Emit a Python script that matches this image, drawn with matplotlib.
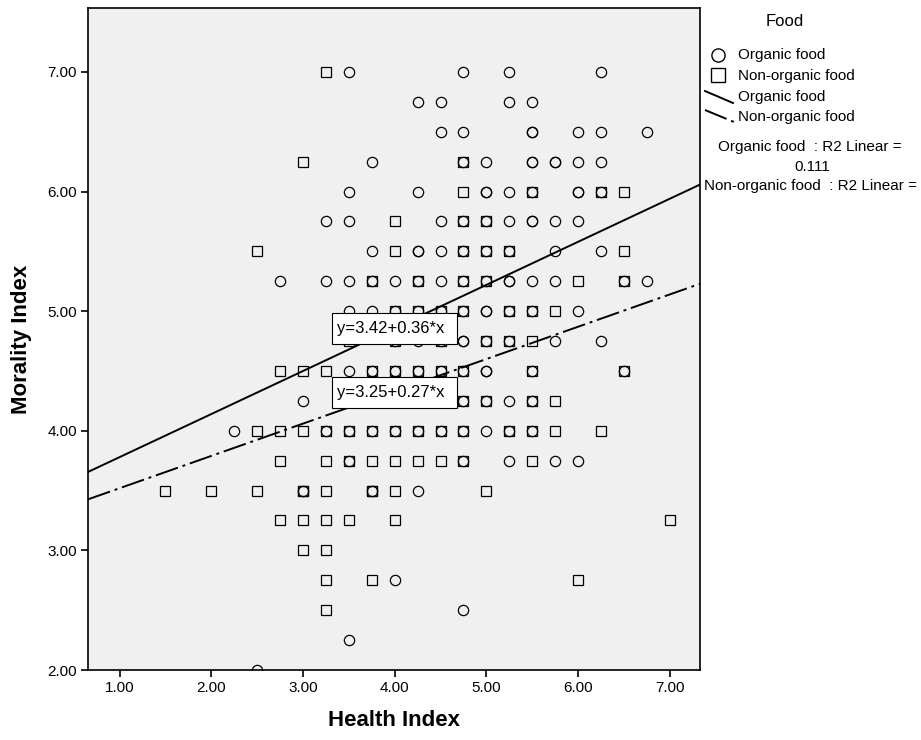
import numpy as np
import matplotlib
matplotlib.use('Agg')
import matplotlib.pyplot as plt
from matplotlib.lines import Line2D
from matplotlib.patches import Rectangle

plt.rcParams['font.family'] = ['Liberation Sans', 'DejaVu Sans']

# Organic food points (row by row, Morality Index from 7.00 down)
organic_x = [3.50, 4.75, 5.25, 6.25,
             4.25, 4.50, 5.25, 5.50,
             4.50, 4.75, 5.50, 5.50, 6.00, 6.25, 6.75,
             3.75, 4.75, 5.00, 5.50, 5.50, 5.75, 5.75, 6.00, 6.25,
             3.50, 4.25, 5.00, 5.00, 5.25, 5.50, 6.00, 6.00, 6.25,
             3.25, 3.50, 4.50, 4.75, 5.00, 5.25, 5.50, 5.50, 5.75, 6.00,
             3.75, 4.25, 4.25, 4.50, 4.75, 5.00, 5.25, 5.75, 6.25,
             2.75, 3.25, 3.50, 3.75, 4.00, 4.25, 4.50, 4.75, 5.00, 5.25, 5.25, 5.50, 5.75, 6.50, 6.75,
             3.50, 3.75, 4.00, 4.25, 4.50, 4.75, 5.00, 5.00, 5.25, 5.50, 6.00,
             4.00, 4.25, 4.50, 4.75, 4.75, 5.00, 5.25, 5.75, 6.25,
             3.50, 3.75, 4.00, 4.25, 4.50, 4.75, 5.00, 5.00, 5.50, 6.50,
             3.00, 4.75, 5.00, 5.25, 5.50,
             2.25, 3.25, 3.50, 3.75, 4.00, 4.25, 4.50, 4.75, 5.00, 5.25, 5.50,
             3.50, 4.75, 5.25, 5.75, 6.00,
             3.00, 3.75, 4.25,
             4.00,
             4.75,
             3.50,
             2.50]
organic_y = ([7.00] * 4 + [6.75] * 4 + [6.50] * 7 + [6.25] * 9 + [6.00] * 9 +
             [5.75] * 10 + [5.50] * 9 + [5.25] * 15 + [5.00] * 11 + [4.75] * 9 +
             [4.50] * 10 + [4.25] * 5 + [4.00] * 11 + [3.75] * 5 + [3.50] * 3 +
             [2.75] * 1 + [2.50] * 1 + [2.25] * 1 + [2.00] * 1)

# Non-organic food points
nonorg_x = [3.25,
            3.00, 4.75,
            4.75, 5.50, 6.25, 6.50,
            4.00, 4.75, 5.00,
            2.50, 4.00, 4.75, 5.00, 5.25, 6.50,
            3.75, 4.25, 4.75, 5.00, 6.00, 6.50,
            4.00, 4.25, 4.50, 4.75, 5.25, 5.50, 5.75,
            3.50, 4.00, 4.50, 5.00, 5.25, 5.50,
            2.75, 3.00, 3.25, 3.75, 4.00, 4.25, 4.50, 4.75, 5.50, 6.50,
            3.75, 4.00, 4.25, 4.50, 4.75, 5.00, 5.50, 5.75,
            2.50, 2.75, 3.00, 3.25, 3.50, 3.75, 4.00, 4.25, 4.50, 4.75, 5.25, 5.50, 5.75, 6.25,
            2.75, 3.25, 3.50, 3.75, 4.00, 4.25, 4.50, 4.75, 5.50,
            1.50, 2.00, 2.50, 3.00, 3.00, 3.25, 3.75, 3.75, 4.00, 5.00,
            2.75, 3.00, 3.25, 3.50, 4.00, 7.00,
            3.00, 3.25,
            3.25, 3.75, 6.00,
            3.25]
nonorg_y = ([7.00] * 1 + [6.25] * 2 + [6.00] * 4 + [5.75] * 3 + [5.50] * 6 +
            [5.25] * 6 + [5.00] * 7 + [4.75] * 6 + [4.50] * 10 + [4.25] * 8 +
            [4.00] * 14 + [3.75] * 9 + [3.50] * 10 + [3.25] * 6 + [3.00] * 2 +
            [2.75] * 3 + [2.50] * 1)

# fit lines
org_fit = (3.42, 0.36)
non_fit = (3.25, 0.27)
org_r2 = '0.111'

W, H = 921, 740
fig = plt.figure(figsize=(W / 100, H / 100), dpi=100)
fig.patch.set_facecolor('white')


def px(x, y):
    return x / W, 1 - y / H


ax = fig.add_axes([88 / W, 70 / H, 612 / W, 662 / H])
ax.set_facecolor('#f0f0f0')
ax.set_xlim(0.655, 7.33)
ax.set_ylim(2.0, 7.535)
ax.set_xticks(np.arange(1, 8))
ax.set_yticks(np.arange(2, 8))
ax.xaxis.set_major_formatter(matplotlib.ticker.FormatStrFormatter('%.2f'))
ax.yaxis.set_major_formatter(matplotlib.ticker.FormatStrFormatter('%.2f'))
ax.tick_params(direction='out', length=5, width=1.2, labelsize=11, pad=3)
for s in ax.spines.values():
    s.set_linewidth(1.2)

pts_o, = ax.plot(organic_x, organic_y, 'o', mfc='none', mec='black', ms=7.4, mew=0.9, ls='none')
pts_n, = ax.plot(nonorg_x, nonorg_y, 's', mfc='none', mec='black', ms=7.4, mew=0.9, ls='none')
pts_o.set_clip_path(ax.patch)
pts_n.set_clip_path(ax.patch)

xs = np.array(ax.get_xlim())
ax.plot(xs, org_fit[0] + org_fit[1] * xs, color='black', lw=1.4)
ax.plot(xs, non_fit[0] + non_fit[1] * xs, color='black', lw=1.4, dashes=(12, 2.5, 1.5, 2.5))

# equation labels
for (b0, b1), ytop in [(org_fit, 4.985), (non_fit, 4.45)]:
    ax.add_patch(Rectangle((3.318, ytop - 0.26), 1.36, 0.26, facecolor='white',
                           edgecolor='black', lw=0.8, zorder=5))
    ax.text(3.37, ytop - 0.13, f'y={b0:.2f}+{b1:.2f}*x', fontsize=12,
            va='center', ha='left', zorder=6)

fig.text(*px(394, 720), 'Health Index', fontsize=16, fontweight='bold', ha='center', va='center')
fig.text(*px(22, 339), 'Morality Index', fontsize=16, fontweight='bold', ha='center',
         va='center', rotation=90)

# legend
fig.text(*px(785, 22), 'Food', fontsize=12, ha='center', va='center')
fig.add_artist(Line2D([718 / W], [1 - 55 / H], marker='o', mfc='none', mec='black', ms=9.5,
                      mew=1.0, transform=fig.transFigure))
fig.add_artist(Line2D([718 / W], [1 - 75 / H], marker='s', mfc='none', mec='black', ms=9.5,
                      mew=1.0, transform=fig.transFigure))
fig.add_artist(Line2D([705 / W, 733 / W], [1 - 91 / H, 1 - 103 / H], color='black', lw=1.4,
                      transform=fig.transFigure))
fig.add_artist(Line2D([705 / W, 734 / W], [1 - 110 / H, 1 - 122 / H], color='black', lw=1.4,
                      dashes=(12, 2.5, 1.5, 2.5), transform=fig.transFigure))
for y, label in [(55, 'Organic food'), (76, 'Non-organic food'),
                 (97, 'Organic food'), (117, 'Non-organic food')]:
    fig.text(*px(738, y), label, fontsize=11, ha='left', va='center')
fig.text(*px(810, 147), 'Organic food  : R2 Linear =', fontsize=11, ha='center', va='center')
fig.text(*px(812, 167), org_r2, fontsize=11, ha='center', va='center')
fig.text(*px(810, 186), 'Non-organic food  : R2 Linear =', fontsize=11, ha='center', va='center')

fig.savefig('out.png', dpi=100)
